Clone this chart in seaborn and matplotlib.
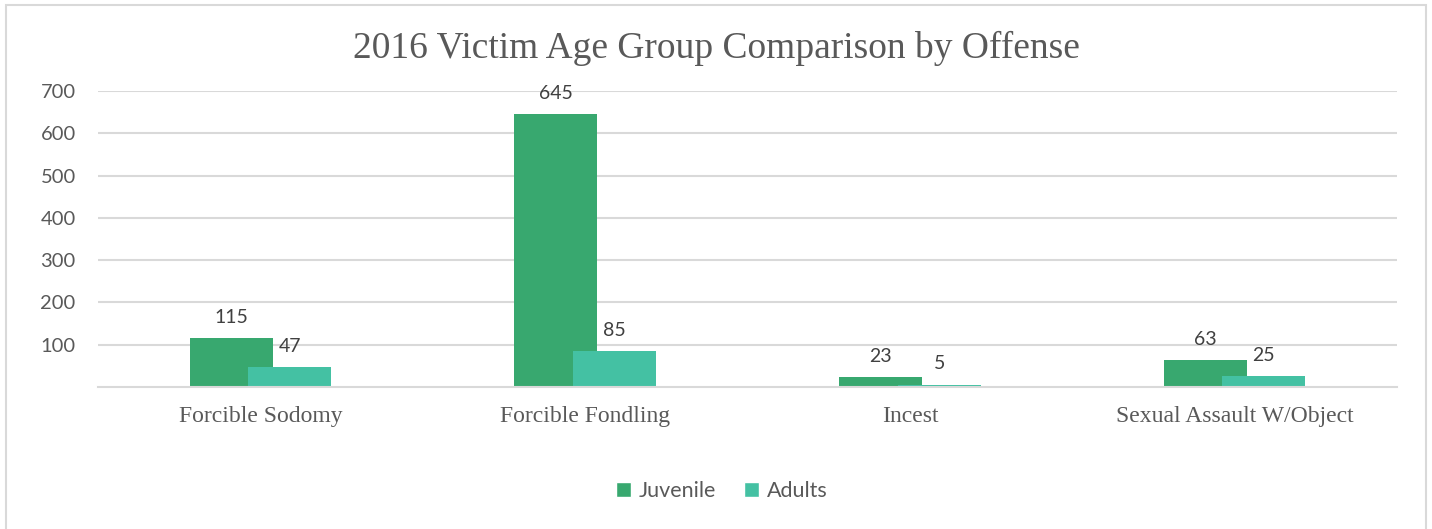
import numpy as np
import pandas as pd
import matplotlib
matplotlib.use("Agg")
import matplotlib.pyplot as plt
import seaborn as sns
from matplotlib.patches import Patch, Rectangle

# Data
offenses = ["Forcible Sodomy", "Forcible Fondling", "Incest", "Sexual Assault W/Object"]
juvenile = [115, 645, 23, 63]
adults = [47, 85, 5, 25]
series_names = ["Juvenile", "Adults"]
y_ticks = [100, 200, 300, 400, 500, 600, 700]

juv_color = "#38A86F"
adu_color = "#44C1A3"
text_color = "#595959"
label_color = "#404040"
grid_color = "#D9D9D9"

sns.set_theme(style="white")
plt.rcParams["font.family"] = ["Lato", "DejaVu Sans"]

fig = plt.figure(figsize=(14.32, 5.29), dpi=100)
ax = fig.add_axes([0.0684, 0.2684, 0.9072, 0.5596])

pos = np.arange(len(offenses))
shift = 0.09
bar_w = 0.255

sns.barplot(x=pos - shift, y=juvenile, native_scale=True, width=bar_w,
            color=juv_color, saturation=1, linewidth=0, ax=ax, zorder=3)
sns.barplot(x=pos + shift, y=adults, native_scale=True, width=bar_w,
            color=adu_color, saturation=1, linewidth=0, ax=ax, zorder=4)

# value labels
for xs, vals in ((pos - shift, juvenile), (pos + shift, adults)):
    for x, v in zip(xs, vals):
        ax.annotate(f"{v}", (x, v), xytext=(0, 9), textcoords="offset points",
                    ha="center", va="bottom", fontsize=14, color=label_color,
                    zorder=5)

ax.set_xlim(-0.5, len(offenses) - 0.5)
ax.set_ylim(0, 700)
ax.set_yticks(y_ticks)
ax.set_yticklabels([str(t) for t in y_ticks], fontsize=14.5, color=text_color)
ax.set_xticks(pos)
ax.set_xticklabels(offenses, fontsize=17, color=text_color,
                   family=["Liberation Serif", "DejaVu Serif"])
ax.tick_params(axis="both", length=0)
ax.tick_params(axis="x", pad=14)
ax.tick_params(axis="y", pad=16)
ax.set_xlabel("")
ax.set_ylabel("")

for t in y_ticks:
    ax.axhline(t, color=grid_color, lw=1.5, zorder=1)
for side in ("top", "right", "left"):
    ax.spines[side].set_visible(False)
ax.spines["bottom"].set_color(grid_color)
ax.spines["bottom"].set_linewidth(1.5)
ax.spines["bottom"].set_zorder(6)

fig.text(0.5, 1 - 48 / 529, "2016 Victim Age Group Comparison by Offense",
         ha="center", va="center", fontsize=27, color=text_color,
         family=["Liberation Serif", "DejaVu Serif"])

handles = [Patch(facecolor=juv_color), Patch(facecolor=adu_color)]
fig.legend(handles, series_names, loc="center",
           bbox_to_anchor=(722 / 1432, 1 - 491 / 529), ncol=2, frameon=False,
           fontsize=15.5, handlelength=0.7, handleheight=0.7,
           handletextpad=0.35, columnspacing=1.3, labelcolor=text_color)

# chart frame
fig.patches.append(Rectangle((6 / 1432, -0.01), 1420 / 1432, 1 - 5 / 529 + 0.01,
                             transform=fig.transFigure, fill=False,
                             edgecolor="#D9D9D9", lw=1.5))

fig.savefig("out.png", dpi=100, facecolor="white")
